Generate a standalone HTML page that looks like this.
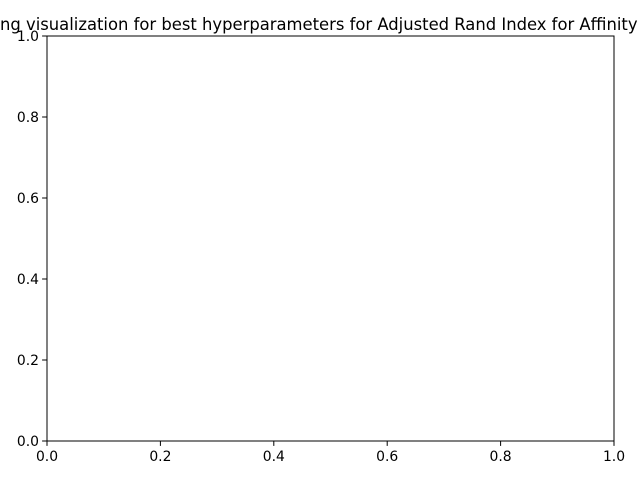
<!DOCTYPE html>
<html><head><meta charset="utf-8"><style>
html,body{margin:0;padding:0;background:#fff;}
svg{display:block;font-family:"DejaVu Sans","Liberation Sans",sans-serif;}
</style></head><body>
<svg id="chart" width="640" height="480" viewBox="0 0 640 480" xmlns="http://www.w3.org/2000/svg">
<rect width="640" height="480" fill="#fff"/>
<text y="30" font-size="16.4" fill="#000"><tspan x="0" text-anchor="end">Clusteri</tspan><tspan x="0">ng visualization for best hyperparameters for Adjusted Rand Index for Affinity Propagation</tspan></text>
<g id="axes"></g>
</svg>
<script>
const xTicks = [0.0, 0.2, 0.4, 0.6, 0.8, 1.0];
const yTicks = [0.0, 0.2, 0.4, 0.6, 0.8, 1.0];
const xTickLabels = ["0.0", "0.2", "0.4", "0.6", "0.8", "1.0"];
const yTickLabels = ["0.0", "0.2", "0.4", "0.6", "0.8", "1.0"];
const L = 47, R = 614, T = 36, B = 441;
const xs = v => L + (R - L) * v;
const ys = v => B - (B - T) * v;
const NS = "http://www.w3.org/2000/svg";
const g = document.getElementById("axes");
function mk(tag, attrs) { const e = document.createElementNS(NS, tag); for (const k in attrs) e.setAttribute(k, attrs[k]); g.appendChild(e); return e; }
const frame = mk("rect", {x: L, y: T, width: R - L, height: B - T, fill: "none", stroke: "#000", "stroke-width": 1});


xTicks.forEach((v, i) => {
  const t = mk("line", {x1: xs(v), x2: xs(v), y1: B, y2: B + 4.9, stroke: "#000", "stroke-width": 1});
  
  
  const l = mk("text", {x: xs(v), y: B + 20, "text-anchor": "middle", "font-size": 13.9});
  l.textContent = xTickLabels[i];
  
  
});
yTicks.forEach((v, i) => {
  const t = mk("line", {x1: L - 4.9, x2: L, y1: ys(v), y2: ys(v), stroke: "#000", "stroke-width": 1});
  
  
  const l = mk("text", {x: L - 8, y: ys(v) + 5, "text-anchor": "end", "font-size": 13.9});
  l.textContent = yTickLabels[i];
  
  
});
</script>
</body></html>
